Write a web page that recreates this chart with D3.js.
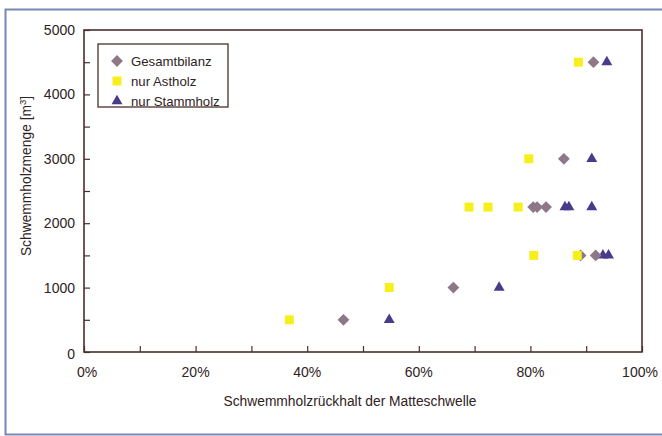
<!DOCTYPE html>
<html><head><meta charset="utf-8">
<script src="https://cdn.jsdelivr.net/npm/d3@7"></script>
<style>body{margin:0;background:#fff;}svg{display:block;font-family:"Liberation Sans",Arial,sans-serif;}</style>
</head><body>
<svg id="c" width="662" height="436"></svg>
<script>
const seriesNames = ["Gesamtbilanz", "nur Astholz", "nur Stammholz"];
const gesamtX = [0.465, 0.662, 0.89, 0.917, 0.805, 0.812, 0.828, 0.86, 0.913];
const gesamtY = [500, 1000, 1500, 1500, 2250, 2250, 2250, 3000, 4500];
const astX = [0.368, 0.547, 0.806, 0.884, 0.69, 0.724, 0.778, 0.797, 0.886];
const astY = [500, 1000, 1500, 1500, 2250, 2250, 2250, 3000, 4500];
const stammX = [0.547, 0.744, 0.93, 0.94, 0.862, 0.869, 0.91, 0.91, 0.937];
const stammY = [500, 1000, 1500, 1500, 2250, 2250, 2250, 3000, 4500];
const xTicks = [0, 0.2, 0.4, 0.6, 0.8, 1.0];
const yTicks = [0, 1000, 2000, 3000, 4000, 5000];

const svg = d3.select("#c");
const L = 84, R = 642, T = 30, B = 352;
const x = d3.scaleLinear().domain([0, 1]).range([L, R]);
const y = d3.scaleLinear().domain([0, 5000]).range([B, T]);
const axisCol = "#4a2e2c", textCol = "#2e2222";

// outer frame
svg.append("rect").attr("x", 5.5).attr("y", 9.5).attr("width", 662).attr("height", 425)
  .attr("fill", "none").attr("stroke", "#7a86b8").attr("stroke-width", 2);

// plot box
svg.append("rect").attr("x", L).attr("y", T).attr("width", R - L).attr("height", B - T)
  .attr("fill", "#fff").attr("stroke", axisCol).attr("stroke-width", 1.6);

// x axis ticks (inward)
const xa = svg.append("g").attr("transform", `translate(0,${B})`)
  .call(d3.axisBottom(x).tickValues(d3.range(0, 1.0001, 0.1)).tickSizeInner(-6).tickSizeOuter(0).tickFormat(""));
xa.select(".domain").remove();
xa.selectAll("line").attr("stroke", axisCol).attr("stroke-width", 1.2);
svg.append("g").selectAll("text").data(xTicks).join("text")
  .attr("x", d => x(d) + (d === 0 ? 3 : d === 1 ? -2 : 0)).attr("y", B + 25)
  .attr("text-anchor", "middle").attr("font-size", 14).attr("fill", textCol)
  .text(d => d3.format(".0%")(d));

// y axis ticks (inward)
const ya = svg.append("g").attr("transform", `translate(${L},0)`)
  .call(d3.axisLeft(y).tickValues(d3.range(0, 5001, 500)).tickSizeInner(-6).tickSizeOuter(0).tickFormat(""));
ya.select(".domain").remove();
ya.selectAll("line").attr("stroke", axisCol).attr("stroke-width", 1.2);
svg.append("g").selectAll("text").data(yTicks).join("text")
  .attr("x", L - 9).attr("y", d => y(d) + 5 + (d === 0 ? 2 : 0))
  .attr("text-anchor", "end").attr("font-size", 14).attr("fill", textCol)
  .text(d => d);

// axis titles
svg.append("text").attr("x", 350).attr("y", 406).attr("text-anchor", "middle")
  .attr("font-size", 13.8).attr("fill", textCol).text("Schwemmholzrückhalt der Matteschwelle");
const yl = svg.append("text").attr("transform", "translate(31,176) rotate(-90)").attr("text-anchor", "middle")
  .attr("font-size", 13.8).attr("fill", textCol);
yl.append("tspan").text("Schwemmholzmenge [m");
yl.append("tspan").attr("font-size", 9.5).attr("dy", -5).text("3");
yl.append("tspan").attr("dy", 5).text("]");

const colors = ["#8d7888", "#f7ef1c", "#4a3a8c"];
const symbols = [d3.symbolSquare, d3.symbolSquare, d3.symbolTriangle];
const sizes = [70, 81, 52];
const rot = [45, 0, 0];
const sets = [[gesamtX, gesamtY], [astX, astY], [stammX, stammY]];
const drawOrder = [2, 0, 1];
drawOrder.forEach(i => {
  const [xs, ys] = sets[i];
  svg.append("g").selectAll("path").data(xs.map((v, k) => [v, ys[k]])).join("path")
    .attr("transform", d => `translate(${x(d[0])},${y(d[1])}) rotate(${rot[i]})`)
    .attr("d", d3.symbol().type(symbols[i]).size(sizes[i]))
    .attr("fill", colors[i]);
});

// legend
const lg = svg.append("g");
lg.append("rect").attr("x", 98).attr("y", 44).attr("width", 130).attr("height", 63)
  .attr("fill", "#fff").attr("stroke", axisCol).attr("stroke-width", 1.3);
seriesNames.forEach((n, i) => {
  const cy = 61 + i * 20;
  lg.append("path").attr("transform", `translate(117,${cy}) rotate(${rot[i]})`)
    .attr("d", d3.symbol().type(symbols[i]).size(sizes[i])).attr("fill", colors[i]);
  lg.append("text").attr("x", 131).attr("y", cy + 5).attr("font-size", 13.2).attr("fill", textCol).text(n);
});
</script>
</body></html>
